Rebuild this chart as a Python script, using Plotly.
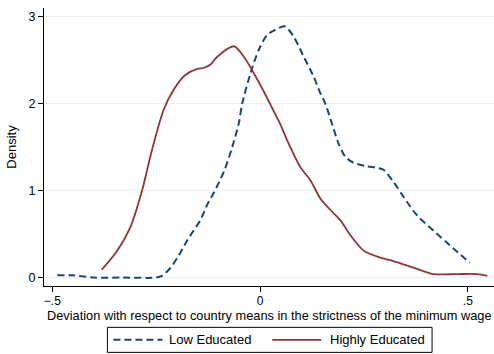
import plotly.graph_objects as go

# Kernel density estimates of the deviation from country means in minimum wage strictness
low_x = [-0.488, -0.452, -0.40, -0.33, -0.252, -0.236, -0.216, -0.195, -0.175, -0.144,
         -0.124, -0.112, -0.087, -0.067, -0.051, -0.043, -0.023, -0.003, 0.017, 0.037,
         0.059, 0.081, 0.105, 0.129, 0.145, 0.157, 0.173, 0.189, 0.205, 0.225,
         0.257, 0.285, 0.297, 0.321, 0.345, 0.377, 0.417, 0.457, 0.505]
low_y = [0.026, 0.026, 0.0, 0.0, 0.0, 0.02, 0.11, 0.26, 0.43, 0.66,
         0.87, 0.97, 1.22, 1.50, 1.78, 2.0, 2.35, 2.62, 2.79, 2.85,
         2.89, 2.77, 2.54, 2.31, 2.12, 2.0, 1.77, 1.54, 1.39, 1.32,
         1.28, 1.26, 1.24, 1.10, 0.93, 0.72, 0.54, 0.37, 0.17]

high_x = [-0.381, -0.345, -0.312, -0.284, -0.26, -0.232, -0.208, -0.18, -0.151, -0.136,
          -0.119, -0.103, -0.063, -0.039, -0.015, 0.009, 0.029, 0.050, 0.065, 0.097,
          0.121, 0.145, 0.169, 0.193, 0.217, 0.249, 0.289, 0.321, 0.369, 0.417,
          0.474, 0.522, 0.547]
high_y = [0.092, 0.30, 0.58, 1.0, 1.47, 1.93, 2.16, 2.33, 2.40, 2.41,
          2.45, 2.54, 2.66, 2.54, 2.35, 2.14, 1.95, 1.75, 1.58, 1.27,
          1.12, 0.91, 0.78, 0.66, 0.49, 0.31, 0.23, 0.19, 0.115, 0.04,
          0.04, 0.04, 0.02]

series_names = ["Low Educated", "Highly Educated"]
x_ticks = [-0.5, 0, 0.5]
x_tick_text = ["\u2212.5", "0", ".5"]
y_ticks = [0, 1, 2, 3]
x_title = "Deviation with respect to country means in the strictness of the minimum wage"

NAVY = "#1a476f"
MAROON = "#90353b"
FONT = "Liberation Sans, Arial, sans-serif"
DASH = "7px,4px"

W, H = 494, 354
ML, MR, MT, MB = 43.5, 0, 8, 68.3
PW, PH = W - ML - MR, H - MT - MB


def px_x(px):
    """Pixel column -> paper x."""
    return (px - ML) / PW


def px_y(py):
    """Pixel row (from top) -> paper y."""
    return (H - MB - py) / PH


fig = go.Figure()
fig.add_trace(go.Scatter(
    x=low_x, y=low_y, mode="lines", name=series_names[0],
    line=dict(color=NAVY, width=2, dash=DASH, shape="spline", smoothing=0.8),
))
fig.add_trace(go.Scatter(
    x=high_x, y=high_y, mode="lines", name=series_names[1],
    line=dict(color=MAROON, width=1.8, shape="spline", smoothing=0.8),
))

# Boxed legend below the x-axis title, Stata style
legend_top, legend_bot = 327, 352
legend_mid = (legend_top + legend_bot) / 2
shapes = [
    dict(type="rect", xref="paper", yref="paper",
         x0=px_x(107), x1=px_x(432), y0=px_y(legend_bot), y1=px_y(legend_top),
         line=dict(color="#000", width=1), fillcolor="white", layer="above"),
    dict(type="line", xref="paper", yref="paper",
         x0=px_x(113), x1=px_x(162), y0=px_y(legend_mid), y1=px_y(legend_mid),
         line=dict(color=NAVY, width=2, dash=DASH)),
    dict(type="line", xref="paper", yref="paper",
         x0=px_x(272), x1=px_x(321), y0=px_y(legend_mid), y1=px_y(legend_mid),
         line=dict(color=MAROON, width=1.8)),
]
annotations = [
    dict(text=series_names[0], xref="paper", yref="paper", x=px_x(167), y=px_y(legend_mid),
         xanchor="left", yanchor="middle", showarrow=False, font=dict(size=13)),
    dict(text=series_names[1], xref="paper", yref="paper", x=px_x(328), y=px_y(legend_mid),
         xanchor="left", yanchor="middle", showarrow=False, font=dict(size=13)),
    dict(text=x_title, xref="paper", yref="paper", x=0.5, y=px_y(315),
         xanchor="center", yanchor="middle", showarrow=False, borderpad=0,
         font=dict(size=12.8)),
]

fig.update_layout(
    width=W, height=H,
    margin=dict(l=ML, r=MR, t=MT, b=MB, autoexpand=False),
    paper_bgcolor="white", plot_bgcolor="white",
    font=dict(family=FONT, size=13, color="#000"),
    showlegend=False,
    shapes=shapes,
    annotations=annotations,
    xaxis=dict(
        range=[-0.52, 0.563], tickvals=x_ticks, ticktext=x_tick_text, automargin=False,
        showgrid=False, zeroline=False, showline=True, linecolor="#000", linewidth=1.3,
        ticks="outside", ticklen=5, tickcolor="#000", tickfont=dict(size=12),
        ticklabelstandoff=-2,
    ),
    yaxis=dict(
        range=[-0.097, 3.10], tickvals=y_ticks, automargin=False,
        showgrid=True, gridcolor="#eaf2f3", gridwidth=1, zeroline=False,
        showline=True, linecolor="#000", linewidth=1.3,
        ticks="outside", ticklen=5, tickcolor="#000", tickfont=dict(size=12.5),
        title=dict(text="Density", standoff=8, font=dict(size=13)),
    ),
)

fig.write_html("out.html")
